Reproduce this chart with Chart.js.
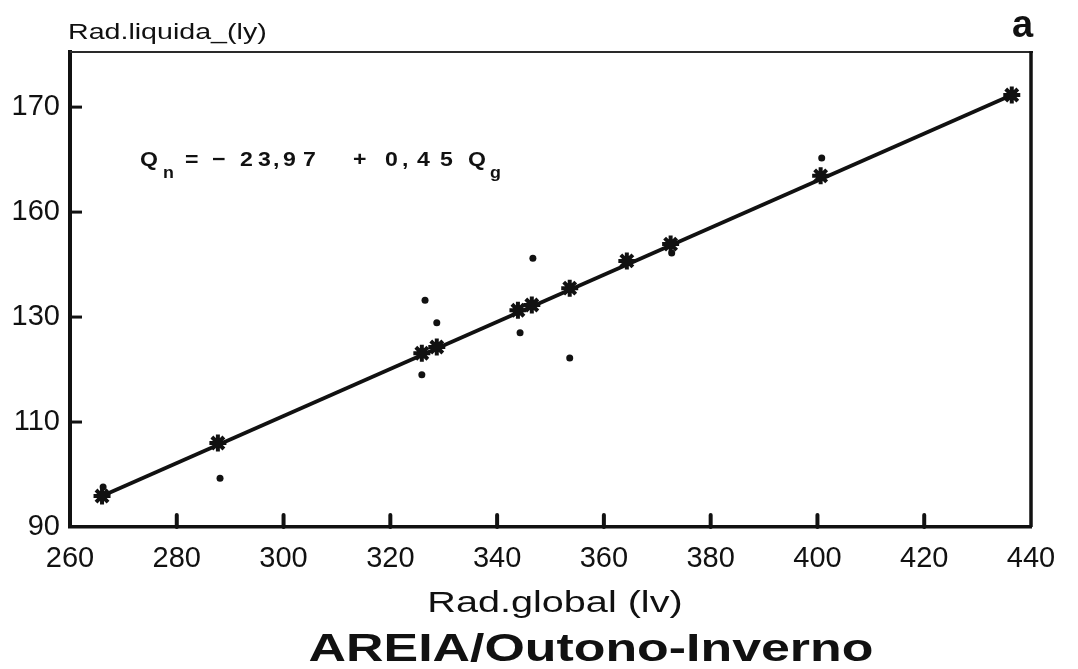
<!DOCTYPE html>
<html>
<head>
<meta charset="utf-8">
<script src="https://cdn.jsdelivr.net/npm/chart.js@4.4.0/dist/chart.umd.min.js"></script>
<style>
  html, body { margin: 0; padding: 0; background: #fff; }
</style>
</head>
<body>
<canvas id="scatter-chart" width="1078" height="669"></canvas>
<script>
// Qg of each month (stars sit on the fitted line)
const radGlobal = [266.0, 287.7, 325.9, 328.7, 343.9, 346.5, 353.6, 364.3, 372.5, 400.6, 436.4]
const radLiquidaEst = [95.9, 106.0, 123.1, 124.3, 131.3, 132.3, 135.5, 140.7, 143.9, 156.9, 172.3]

// measured net radiation (dots)
const obsGlobal = [266.2, 288.1, 326.5, 328.7, 325.9, 346.7, 344.3, 353.6, 372.7, 400.8]
const obsLiquida = [97.6, 99.3, 133.2, 128.9, 119.0, 141.2, 127.0, 122.2, 142.2, 160.3]

// ends of the regression line
const lineGlobal = [266.0, 436.4]
const lineLiquida = [95.9, 172.3]

const xTicks = [260, 280, 300, 320, 340, 360, 380, 400, 420, 440]
const yTicks = [90, 110, 130, 150, 170]
const yTickLabels = ['90', '110', '130', '160', '170']

const INK = '#111'
const FONT = "'Liberation Sans', Arial, sans-serif"

const toPoints = (xs, ys) => xs.map((x, i) => ({ x: x, y: ys[i] }))

// draws text stretched horizontally
function wideText(ctx, text, x, y, sx, align) {
    ctx.save()
    ctx.translate(x, y)
    ctx.scale(sx, 1)
    ctx.textAlign = align || 'left'
    ctx.fillText(text, 0, 0)
    ctx.restore()
}

// frame, inward tick marks and all the loose text
const framePlugin = {
    id: 'frame',
    afterDatasetsDraw(chart) {
        const ctx = chart.ctx
        const a = chart.chartArea
        const xs = chart.scales.x
        const ys = chart.scales.y
        ctx.save()
        ctx.strokeStyle = INK
        ctx.lineCap = 'butt'

        // top edge, thinner than the axes
        ctx.lineWidth = 2
        ctx.strokeStyle = '#2a2a2a'
        ctx.beginPath()
        ctx.moveTo(a.left, a.top)
        ctx.lineTo(a.right + 2, a.top)
        ctx.stroke()
        ctx.strokeStyle = INK

        // right edge
        ctx.lineWidth = 3.5
        ctx.beginPath()
        ctx.moveTo(a.right, a.top - 1)
        ctx.lineTo(a.right, a.bottom)
        ctx.stroke()

        // x ticks pointing up into the plot
        ctx.lineWidth = 4
        ctx.lineCap = 'round'
        xTicks.slice(1, -1).forEach(v => {
            const px = xs.getPixelForValue(v)
            ctx.beginPath()
            ctx.moveTo(px, a.bottom)
            ctx.lineTo(px, a.bottom - 12)
            ctx.stroke()
        })

        // y ticks pointing right into the plot
        ctx.lineWidth = 3
        ctx.lineCap = 'butt'
        yTicks.slice(1).forEach(v => {
            const py = ys.getPixelForValue(v)
            ctx.beginPath()
            ctx.moveTo(a.left, py)
            ctx.lineTo(a.left + 12, py)
            ctx.stroke()
        })

        ctx.fillStyle = INK
        ctx.textBaseline = 'alphabetic'

        // y axis title above the frame
        ctx.font = '22px ' + FONT
        wideText(ctx, 'Rad.liquida_(ly)', 68, 39, 1.3)

        // panel letter
        ctx.font = 'bold 38px ' + FONT
        wideText(ctx, 'a', 1012, 37, 1.0)

        // regression equation
        const eq = [['Q', 140], ['=', 185], ['\u2212', 212], ['2', 240], ['3', 258], [',', 273],
                    ['9', 283], ['7', 303], ['+', 353], ['0', 385], [',', 402], ['4', 417],
                    ['5', 440], ['Q', 468]]
        ctx.font = 'bold 21px ' + FONT
        eq.forEach(([ch, x]) => wideText(ctx, ch, x, 166, 1.1))
        ctx.font = 'bold 17px ' + FONT
        wideText(ctx, 'n', 163, 178, 1.05)
        wideText(ctx, 'g', 490, 178, 1.05)

        // x axis title and panel title
        ctx.font = '30px ' + FONT
        wideText(ctx, 'Rad.global (lv)', 555, 612, 1.32, 'center')
        ctx.font = 'bold 39px ' + FONT
        wideText(ctx, 'AREIA/Outono-Inverno', 591, 661, 1.33, 'center')

        ctx.restore()
    }
}

const ctx = document.getElementById('scatter-chart').getContext('2d')
const chart = new Chart(ctx, {
    type: 'scatter',
    plugins: [framePlugin],
    data: {
        datasets: [{
            // fitted values
            data: toPoints(radGlobal, radLiquidaEst),
            pointStyle: 'star',
            pointRadius: 8.5,
            borderColor: INK,
            backgroundColor: INK,
            pointBorderWidth: 4
        }, {
            // observed values
            data: toPoints(obsGlobal, obsLiquida),
            pointStyle: 'circle',
            pointRadius: 3.5,
            borderWidth: 0,
            backgroundColor: INK
        }, {
            data: toPoints(lineGlobal, lineLiquida),
            showLine: true,
            borderColor: INK,
            borderWidth: 3.8,
            pointRadius: 0
        }]
    },
    options: {
        responsive: false,
        animation: false,
        events: [],
        layout: { padding: { top: 52, right: 47, left: 0, bottom: 0 } },
        plugins: {
            legend: { display: false },
            tooltip: { enabled: false },
            title: { display: false }
        },
        scales: {
            x: {
                type: 'linear',
                min: 260,
                max: 440,
                afterBuildTicks: s => { s.ticks = xTicks.map(v => ({ value: v })) },
                afterFit: s => { s.height = 142 },
                grid: { display: false, drawTicks: false },
                border: { display: true, color: INK, width: 3.5 },
                ticks: {
                    color: INK,
                    padding: 15,
                    maxRotation: 0,
                    autoSkip: false,
                    font: { family: FONT, size: 29 }
                }
            },
            y: {
                type: 'linear',
                min: 90,
                max: 180.5,
                afterBuildTicks: s => { s.ticks = yTicks.map(v => ({ value: v })) },
                afterFit: s => { s.width = 70 },
                grid: { display: false, drawTicks: false },
                border: { display: true, color: INK, width: 4 },
                ticks: {
                    color: INK,
                    padding: 10,
                    autoSkip: false,
                    font: { family: FONT, size: 29 },
                    callback: v => yTickLabels[yTicks.indexOf(v)]
                }
            }
        }
    }
})
</script>
</body>
</html>
